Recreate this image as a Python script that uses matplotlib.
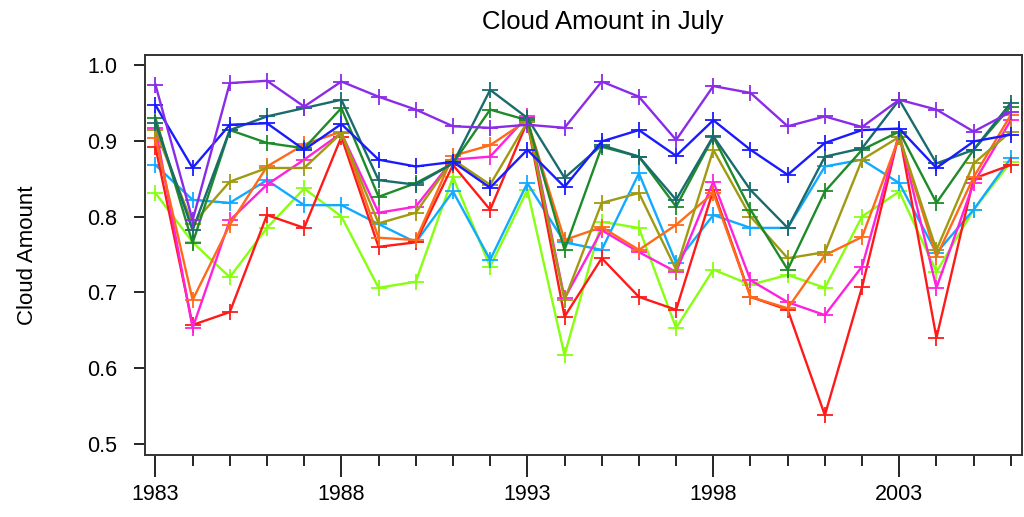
import matplotlib
matplotlib.use("Agg")
import matplotlib.pyplot as plt
from matplotlib.ticker import MultipleLocator

years = list(range(1983, 2007))

purple = [0.974, 0.795, 0.976, 0.979, 0.945, 0.978, 0.958, 0.941, 0.919, 0.917, 0.921, 0.917,
          0.978, 0.958, 0.901, 0.972, 0.963, 0.919, 0.932, 0.918, 0.954, 0.941, 0.912, 0.938]
blue = [0.947, 0.864, 0.921, 0.923, 0.888, 0.922, 0.875, 0.866, 0.872, 0.838, 0.888, 0.839,
        0.899, 0.914, 0.880, 0.927, 0.888, 0.855, 0.897, 0.914, 0.916, 0.864, 0.899, 0.908]
teal = [0.923, 0.782, 0.914, 0.932, 0.943, 0.954, 0.848, 0.842, 0.870, 0.967, 0.930, 0.851,
        0.894, 0.879, 0.822, 0.906, 0.835, 0.785, 0.879, 0.890, 0.954, 0.870, 0.888, 0.950]
green = [0.930, 0.765, 0.914, 0.897, 0.890, 0.943, 0.826, 0.844, 0.870, 0.941, 0.927, 0.756,
         0.892, 0.879, 0.813, 0.905, 0.809, 0.730, 0.833, 0.888, 0.912, 0.818, 0.888, 0.945]
olive = [0.914, 0.790, 0.846, 0.864, 0.864, 0.910, 0.791, 0.805, 0.875, 0.842, 0.925, 0.690,
         0.818, 0.831, 0.730, 0.888, 0.800, 0.745, 0.753, 0.875, 0.905, 0.756, 0.870, 0.912]
orange = [0.904, 0.690, 0.789, 0.866, 0.895, 0.912, 0.772, 0.769, 0.880, 0.894, 0.927, 0.769,
          0.786, 0.756, 0.789, 0.831, 0.694, 0.679, 0.749, 0.773, 0.905, 0.747, 0.852, 0.934]
red = [0.892, 0.657, 0.674, 0.802, 0.785, 0.905, 0.760, 0.766, 0.868, 0.809, 0.925, 0.668,
       0.745, 0.694, 0.677, 0.835, 0.694, 0.677, 0.538, 0.707, 0.910, 0.640, 0.850, 0.868]
magenta = [0.917, 0.653, 0.795, 0.842, 0.875, 0.910, 0.805, 0.813, 0.875, 0.879, 0.932, 0.692,
           0.782, 0.753, 0.727, 0.846, 0.716, 0.687, 0.670, 0.734, 0.910, 0.706, 0.844, 0.927]
skyblue = [0.868, 0.822, 0.818, 0.848, 0.815, 0.815, 0.790, 0.766, 0.833, 0.743, 0.844, 0.766,
           0.756, 0.857, 0.739, 0.802, 0.785, 0.785, 0.866, 0.875, 0.844, 0.752, 0.809, 0.877]
lime = [0.831, 0.766, 0.720, 0.785, 0.837, 0.800, 0.706, 0.714, 0.852, 0.734, 0.835, 0.617,
        0.793, 0.785, 0.653, 0.730, 0.710, 0.723, 0.706, 0.800, 0.833, 0.727, 0.809, 0.872]

series = [
    (lime, "#88ff11"),
    (skyblue, "#11aaff"),
    (red, "#ff1a1a"),
    (magenta, "#ff22dd"),
    (orange, "#ff6a1a"),
    (olive, "#a09a10"),
    (green, "#1e8a2a"),
    (teal, "#1a6b6b"),
    (blue, "#1a1aff"),
    (purple, "#8a2be8"),
]

plt.rcParams['font.family'] = ['Liberation Sans', 'DejaVu Sans']

fig = plt.figure(figsize=(10.24, 5.17), dpi=100)
ax = fig.add_axes([145/1024, 1 - 455/517, (1022 - 145)/1024, (455 - 55)/517])

for vals, col in series:
    ax.plot(years, vals, color=col, lw=1.7, marker='+', markersize=11, markeredgewidth=1.3)

ax.set_xlim(1982.72, 2006.3)
ax.set_ylim(0.4855, 1.013)
ax.xaxis.set_minor_locator(MultipleLocator(1))
ax.set_xticks([1983, 1988, 1993, 1998, 2003])
ax.set_yticks([0.5, 0.6, 0.7, 0.8, 0.9, 1.0])
ax.set_yticklabels(["0.5", "0.6", "0.7", "0.8", "0.9", "1.0"])

ax.tick_params(axis='x', which='major', direction='out', length=16, width=1.2, labelsize=15.5, pad=5)
ax.tick_params(axis='x', which='minor', direction='out', length=8, width=1.2)
ax.tick_params(axis='y', which='major', direction='out', length=8, width=1.2, labelsize=15.5, pad=12)
for s in ax.spines.values():
    s.set_linewidth(1.4)
    s.set_color("#333333")

ax.set_ylabel("Cloud Amount", fontsize=16)
ax.yaxis.set_label_coords((38 - 145) / 877, 0.5)
fig.text(603/1024, 1 - 22/517, "Cloud Amount in July", ha='center', va='center', fontsize=18.5)

fig.savefig("out.png", dpi=100)
